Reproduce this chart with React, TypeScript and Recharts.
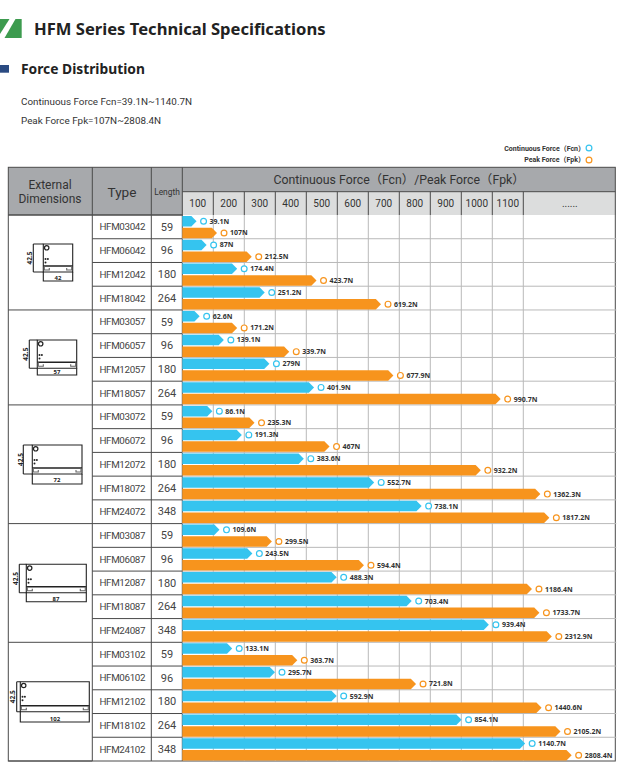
import React from 'react';
import { BarChart, Bar, XAxis, YAxis, CartesianGrid, LabelList } from 'recharts';

const FONT = '"Noto Sans", "Noto Sans CJK SC", sans-serif';
const BODY_FONT = 'Roboto, "Noto Sans CJK SC", sans-serif';
const LINE = '#4a4a4a';
const CYAN = '#35c4ef';
const ORANGE = '#f7941d';

const models = [
  'HFM03042', 'HFM06042', 'HFM12042', 'HFM18042',
  'HFM03057', 'HFM06057', 'HFM12057', 'HFM18057',
  'HFM03072', 'HFM06072', 'HFM12072', 'HFM18072', 'HFM24072',
  'HFM03087', 'HFM06087', 'HFM12087', 'HFM18087', 'HFM24087',
  'HFM03102', 'HFM06102', 'HFM12102', 'HFM18102', 'HFM24102',
];
const lengths = [
  59, 96, 180, 264,
  59, 96, 180, 264,
  59, 96, 180, 264, 348,
  59, 96, 180, 264, 348,
  59, 96, 180, 264, 348,
];
const fcnLabels = [
  '39.1N', '87N', '174.4N', '251.2N',
  '62.6N', '139.1N', '279N', '401.9N',
  '86.1N', '191.3N', '383.6N', '552.7N', '738.1N',
  '109.6N', '243.5N', '488.3N', '703.4N', '939.4N',
  '133.1N', '295.7N', '592.9N', '854.1N', '1140.7N',
];
const fpkLabels = [
  '107N', '212.5N', '423.7N', '619.2N',
  '171.2N', '339.7N', '677.9N', '990.7N',
  '235.3N', '467N', '932.2N', '1362.3N', '1817.2N',
  '299.5N', '594.4N', '1186.4N', '1733.7N', '2312.9N',
  '363.7N', '721.8N', '1440.6N', '2105.2N', '2808.4N',
];
// where each bar ends on the drawn axis (the picture is not to scale, and breaks after 1100)
const fcnBars = [
  46, 78.5, 177, 266,
  56, 134, 281, 425,
  97, 192, 392, 619, 772,
  120, 226, 498, 740, 989,
  161, 299, 498, 901, 1106,
];
const fpkBars = [
  112, 224, 433, 641,
  177, 345, 681, 1027,
  233, 475, 963, 1155, 1184,
  289, 586, 1128, 1152, 1192,
  371, 754, 1159, 1220, 1256,
];
const xTicks = [100, 200, 300, 400, 500, 600, 700, 800, 900, 1000, 1100, 1400];
const xTickLabels = ['100', '200', '300', '400', '500', '600', '700', '800', '900', '1000', '1100', '......'];
const groupSizes = [4, 4, 5, 5, 5];

const rows = models.map((name, i) => ({
  name,
  length: lengths[i],
  fcn: fcnBars[i],
  fpk: fpkBars[i],
  fcnLabel: fcnLabels[i],
  fpkLabel: fpkLabels[i],
}));

const ROW_TOP = 215;
const ROW_H = 546 / models.length;
const rowLines = models.map((_, i) => ROW_TOP + i * ROW_H);

// outline sketches of the motor cross-sections
const sketches = [
  { x: 43.3, w: 29.4, top: 244, bottom: 272, dimY: 281, dimX: 33.3, size: '42', labelX: 58, labelY: 277.7, sideX: 30.7 },
  { x: 37.3, w: 39.4, top: 340, bottom: 368.3, dimY: 375, dimX: 29.3, size: '57', labelX: 57, labelY: 372, sideX: 26.3 },
  { x: 32.3, w: 49.7, top: 445, bottom: 474, dimY: 484, dimX: 23.3, size: '72', labelX: 57, labelY: 480, sideX: 21 },
  { x: 26.3, w: 60, top: 564.3, bottom: 592.7, dimY: 601.7, dimX: 19.3, size: '87', labelX: 56, labelY: 598.7, sideX: 16.7 },
  { x: 20.3, w: 69, top: 681.7, bottom: 711.7, dimY: 722, dimX: 16.7, size: '102', labelX: 55, labelY: 718.7, sideX: 13.3 },
];

function Sketch({ s }: { s: (typeof sketches)[number] }) {
  const mid = s.bottom - 6;
  const cy = (s.top + s.bottom) / 2;
  return (
    <g stroke="#222" strokeWidth={1.1} fill="none">
      <path d={`M${s.x} ${s.top}H${s.x + s.w}V${s.bottom}H${s.x}Z`} />
      <path d={`M${s.x} ${mid}H${s.x + s.w}`} strokeWidth={1.5} />
      <path d={`M${s.x + 1} ${mid}v4h5v-2M${s.x + s.w - 1} ${mid}v4h-5v-2`} stroke="#666" />
      <circle cx={s.x + 3.4} cy={s.top + 3.8} r={2.2} strokeWidth={1.2} />
      <circle cx={s.x + 2.2} cy={s.top + 15} r={1} fill="#222" stroke="none" />
      <circle cx={s.x + 4.6} cy={s.top + 15} r={1} fill="#222" stroke="none" />
      <circle cx={s.x + 2.2} cy={s.top + 18.5} r={1} fill="#222" stroke="none" />
      <path d={`M${s.dimX} ${s.top}V${s.bottom}M${s.dimX} ${s.top}H${s.x}M${s.dimX} ${s.bottom}H${s.x}`} />
      <path d={`M${s.x} ${s.bottom}V${s.dimY}H${s.x + s.w}V${s.bottom}`} />
      <text x={s.labelX} y={s.labelY + 2} textAnchor="middle" fontSize={6} fontWeight={700} fill="#222" stroke="none" fontFamily={FONT}>{s.size}</text>
      <text transform={`translate(${s.sideX + 1.5} ${cy}) rotate(-90)`} textAnchor="middle" fontSize={6.5} fontWeight={700} fill="#222" stroke="none" fontFamily={FONT}>42.5</text>
    </g>
  );
}

function TableBack() {
  let n = 0;
  const groupEdges = [0, ...groupSizes.map((g) => (n += g))];
  return (
    <svg width={631} height={765} style={{ position: 'absolute', left: 0, top: 0 }} fontFamily={BODY_FONT}>
      {/* logo */}
      <path d="M0 19H9.5L0 34Z" fill="#3d9b4f" />
      <path d="M15.5 19H21.7V38H4.5Z" fill="#3d9b4f" />
      <rect x={0} y={65} width={9} height={7.7} fill="#2b4b82" />
      <text x={34} y={35} fontSize={16.6} fontWeight={700} fill="#222" fontFamily={FONT}>HFM Series Technical Specifications</text>
      <text x={21} y={74} fontSize={13.8} fontWeight={700} fill="#222" fontFamily={FONT}>Force Distribution</text>
      <text x={21} y={104.5} fontSize={9.85} fill="#333">Continuous Force Fcn=39.1N~1140.7N</text>
      <text x={21} y={123.5} fontSize={9.85} fill="#333">Peak Force Fpk=107N~2808.4N</text>
      {/* legend */}
      <text x={585} y={150.5} textAnchor="end" fontSize={7} fontWeight={700} fill="#333">Continuous Force（Fcn）</text>
      <text x={585} y={162} textAnchor="end" fontSize={7} fontWeight={700} fill="#333">Peak Force（Fpk）</text>
      <circle cx={589} cy={148} r={2.9} fill="none" stroke={CYAN} strokeWidth={1.2} />
      <circle cx={589} cy={160} r={2.9} fill="none" stroke={ORANGE} strokeWidth={1.2} />
      {/* header fills */}
      <rect x={8.3} y={167.3} width={607} height={47.7} fill="#a7a9ac" />
      <rect x={182.3} y={191.7} width={433} height={23.3} fill="#dcdddd" />
      <text x={50} y={188.5} textAnchor="middle" fontSize={12} fill="#333">External</text>
      <text x={50} y={202.5} textAnchor="middle" fontSize={12} fill="#333">Dimensions</text>
      <text x={122} y={197} textAnchor="middle" fontSize={13.6} fill="#333">Type</text>
      <text x={167} y={195} textAnchor="middle" fontSize={8.4} fill="#333">Length</text>
      <text x={399} y={183.5} textAnchor="middle" fontSize={12.3} fill="#333">Continuous Force（Fcn）/Peak Force（Fpk）</text>
      {sketches.map((s) => <Sketch key={s.size} s={s} />)}
      {/* frame and dark rules */}
      <g stroke={LINE} strokeWidth={1} fill="none">
        <rect x={8.3} y={167.3} width={607} height={593.7} />
        <path d="M92.3 167.3V761M151.3 167.3V761M182.3 167.3V761M182.3 191.7H615.3M8.3 215H182.3" />
        {rowLines.map((y) => <path key={y} d={`M92.3 ${y}H182.3`} />)}
        {groupEdges.map((g) => <path key={g} d={`M8.3 ${ROW_TOP + g * ROW_H}H92.3`} />)}
      </g>
    </svg>
  );
}

function ArrowBar(props: any) {
  const { x, y, width, height, fill } = props;
  const head = 5.2;
  return <path d={`M${x} ${y}H${x + width - head}L${x + width} ${y + height / 2}L${x + width - head} ${y + height}H${x}Z`} fill={fill} />;
}

function ForceLabel(props: any, color: string) {
  const { x, y, width, height, value } = props;
  const cx = x + width + 7;
  const cy = y + height / 2;
  return (
    <g>
      <circle cx={cx} cy={cy} r={2.9} fill="#fff" stroke={color} strokeWidth={1.2} />
      <text x={cx + 6} y={cy + 2.5} fontSize={7} fontWeight={700} fill="#333" fontFamily={FONT}>{value}</text>
    </g>
  );
}

function ForceTick(props: any) {
  const { x, index } = props;
  const value = xTicks[index];
  const prev = index > 0 ? xTicks[index - 1] : 0;
  const center = x - ((value - prev) * 0.31) / 2;
  return (
    <g fontFamily={BODY_FONT}>
      {value < 1400 && <line x1={x} x2={x} y1={191.7} y2={215} stroke={LINE} />}
      <text x={center} y={207} textAnchor="middle" fontSize={10} fill="#333">{xTickLabels[index]}</text>
    </g>
  );
}

function ModelTick(props: any) {
  const { y, index } = props;
  return (
    <g fontFamily={BODY_FONT} fontSize={9.8} fill="#444">
      <text x={122.3} y={y + 3.5} textAnchor="middle" letterSpacing={-0.35}>{models[index]}</text>
      <text x={167} y={y + 3.7} textAnchor="middle" fontSize={11}>{lengths[index]}</text>
    </g>
  );
}

export default function App() {
  return (
    <div style={{ position: 'absolute', left: 0, top: 0, width: 631, height: 765, background: '#fff' }}>
      <TableBack />
      <div style={{ position: 'absolute', left: 0, top: 0 }}>
        <BarChart
          width={631}
          height={765}
          data={rows}
          layout="vertical"
          barSize={10.5}
          barGap={1.2}
          margin={{ top: 191, right: 14.7, bottom: 4, left: 92.3 }}
        >
          <CartesianGrid
            stroke="#b9b9b9"
            strokeWidth={1}
            verticalValues={xTicks.slice(0, -1)}
            horizontalPoints={rowLines.slice(1)}
          />
          <XAxis
            type="number"
            orientation="top"
            domain={[0, 1400]}
            ticks={xTicks}
            interval={0}
            height={24}
            axisLine={false}
            tickLine={false}
            tick={ForceTick}
          />
          <YAxis
            type="category"
            dataKey="name"
            width={90}
            interval={0}
            axisLine={false}
            tickLine={false}
            tick={ModelTick}
          />
          <Bar dataKey="fcn" fill={CYAN} shape={ArrowBar} isAnimationActive={false}>
            <LabelList dataKey="fcnLabel" content={(p: any) => ForceLabel(p, CYAN)} />
          </Bar>
          <Bar dataKey="fpk" fill={ORANGE} shape={ArrowBar} isAnimationActive={false}>
            <LabelList dataKey="fpkLabel" content={(p: any) => ForceLabel(p, ORANGE)} />
          </Bar>
        </BarChart>
      </div>
    </div>
  );
}
